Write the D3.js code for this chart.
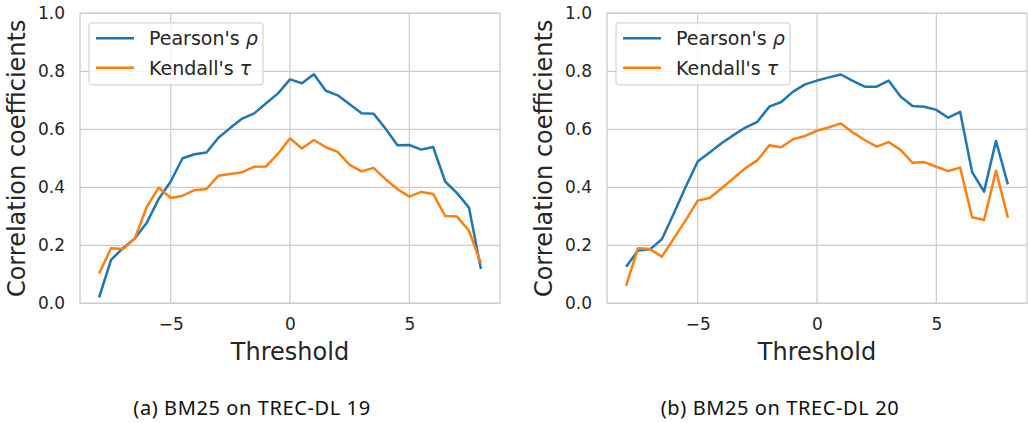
<!DOCTYPE html>
<html>
<head>
<meta charset="utf-8">
<script src="https://cdn.jsdelivr.net/npm/d3@7"></script>
<style>
  body { margin: 0; background: #fff; }
  text { font-family: "DejaVu Sans", sans-serif; fill: #262626; }
  .grid line { stroke: #cccccc; stroke-width: 1.2; }
  .caption { font-family: "Noto Sans", sans-serif; fill: #111; }
</style>
</head>
<body>
<div id="chart"></div>
<script>
// thresholds -8 .. 8 in steps of 0.5
var thresholds = [-8, -7.5, -7, -6.5, -6, -5.5, -5, -4.5, -4, -3.5, -3, -2.5, -2, -1.5, -1, -0.5,
                  0, 0.5, 1, 1.5, 2, 2.5, 3, 3.5, 4, 4.5, 5, 5.5, 6, 6.5, 7, 7.5, 8];

// (a) BM25 on TREC-DL 19
var pearson19 = [0.02, 0.15, 0.19, 0.224, 0.278, 0.36, 0.42, 0.50, 0.514, 0.52, 0.571, 0.605, 0.637, 0.655, 0.69, 0.724,
                 0.772, 0.759, 0.79, 0.733, 0.717, 0.686, 0.655, 0.654, 0.603, 0.545, 0.546, 0.53, 0.539, 0.42, 0.38, 0.33, 0.118];
var kendall19 = [0.103, 0.19, 0.187, 0.224, 0.333, 0.399, 0.363, 0.371, 0.39, 0.394, 0.44, 0.446, 0.452, 0.471, 0.472, 0.516,
                 0.569, 0.534, 0.563, 0.538, 0.522, 0.477, 0.455, 0.467, 0.428, 0.394, 0.368, 0.384, 0.377, 0.301, 0.299, 0.25, 0.138];

// (b) BM25 on TREC-DL 20
var pearson20 = [0.126, 0.182, 0.186, 0.221, 0.31, 0.402, 0.489, 0.52, 0.552, 0.58, 0.606, 0.626, 0.678, 0.694, 0.73, 0.755,
                 0.768, 0.779, 0.789, 0.767, 0.747, 0.747, 0.768, 0.713, 0.68, 0.678, 0.667, 0.64, 0.66, 0.452, 0.385, 0.56, 0.41];
var kendall20 = [0.06, 0.19, 0.187, 0.161, 0.224, 0.287, 0.354, 0.363, 0.397, 0.431, 0.466, 0.493, 0.545, 0.538, 0.566, 0.577,
                 0.595, 0.607, 0.62, 0.589, 0.563, 0.54, 0.556, 0.529, 0.485, 0.487, 0.471, 0.456, 0.468, 0.297, 0.287, 0.457, 0.295];

var xTicks = [-5, 0, 5];
var yTicks = [0.0, 0.2, 0.4, 0.6, 0.8, 1.0];
var seriesNames = ["Pearson's ", "Kendall's "];
var seriesSymbols = ["\u03C1", "\u03C4"];
var colors = ["#1f77b4", "#ff7f0e"];
var captions = ["(a) BM25 on TREC-DL 19", "(b) BM25 on TREC-DL 20"];

var W = 1028, H = 423;
var svg = d3.select("#chart").append("svg")
    .attr("width", W)
    .attr("height", H);

var w = 420, h = 290;

function drawPanel(left, top, pearson, kendall, caption, capX) {
    var g = svg.append("g")
        .attr("transform", "translate(" + left + "," + top + ")");

    var x = d3.scaleLinear()
        .domain([-8.8, 8.8])
        .range([0, w]);
    var y = d3.scaleLinear()
        .domain([0, 1])
        .range([h, 0]);

    // grid
    g.append("g")
        .attr("class", "grid")
        .selectAll("line.gx")
        .data(xTicks)
        .enter()
        .append("line")
            .attr("x1", function(d) { return x(d); })
            .attr("x2", function(d) { return x(d); })
            .attr("y1", 0)
            .attr("y2", h);
    g.append("g")
        .attr("class", "grid")
        .selectAll("line.gy")
        .data(yTicks)
        .enter()
        .append("line")
            .attr("x1", 0)
            .attr("x2", w)
            .attr("y1", function(d) { return y(d); })
            .attr("y2", function(d) { return y(d); });

    // frame
    g.append("rect")
        .attr("width", w)
        .attr("height", h)
        .attr("fill", "none")
        .attr("stroke", "#cccccc")
        .attr("stroke-width", 1.3);

    var xax = g.append("g")
        .attr("transform", "translate(0," + h + ")")
        .call(d3.axisBottom(x).tickValues(xTicks).tickSize(0).tickPadding(15));
    var yax = g.append("g")
        .call(d3.axisLeft(y).tickValues(yTicks).tickSize(0).tickPadding(15).tickFormat(d3.format(".1f")));
    [xax, yax].forEach(function(a) {
        a.select(".domain").remove();
        a.selectAll("text")
            .style("font-size", "17px")
            .style("font-family", "DejaVu Sans")
            .attr("fill", "#262626");
    });

    g.append("text")
        .attr("x", w / 2)
        .attr("y", h + 57)
        .attr("text-anchor", "middle")
        .style("font-size", "24px")
        .text("Threshold");

    g.append("text")
        .attr("transform", "translate(-55," + (h / 2) + ") rotate(-90)")
        .attr("text-anchor", "middle")
        .style("font-size", "24px")
        .text("Correlation coefficients");

    var line = d3.line()
        .x(function(d, i) { return x(thresholds[i]); })
        .y(function(d) { return y(d); });

    [pearson, kendall].forEach(function(s, k) {
        g.append("path")
            .datum(s)
            .attr("d", line)
            .attr("fill", "none")
            .attr("stroke", colors[k])
            .attr("stroke-width", 2.5)
            .attr("stroke-linejoin", "round");
    });

    // legend
    var lg = g.append("g")
        .attr("transform", "translate(9,9.5)");
    lg.append("rect")
        .attr("width", 174)
        .attr("height", 62)
        .attr("rx", 3)
        .attr("fill", "white")
        .attr("fill-opacity", 0.8)
        .attr("stroke", "#d5d5d5")
        .attr("stroke-width", 1.2);
    seriesNames.forEach(function(n, k) {
        lg.append("line")
            .attr("x1", 7)
            .attr("x2", 45)
            .attr("y1", 15.5 + k * 29.5)
            .attr("y2", 15.5 + k * 29.5)
            .attr("stroke", colors[k])
            .attr("stroke-width", 2.5);
        var t = lg.append("text")
            .attr("x", 60)
            .attr("y", 15.5 + k * 29.5)
            .attr("dy", "0.36em")
            .style("font-size", "19px");
        t.append("tspan").text(n);
        t.append("tspan")
            .style("font-style", "italic")
            .text(seriesSymbols[k]);
    });

    svg.append("text")
        .attr("class", "caption")
        .attr("x", capX)
        .attr("y", 415)
        .attr("text-anchor", "middle")
        .style("font-size", "20px")
        .style("letter-spacing", "0.6px")
        .text(caption);
}

drawPanel(80, 13.3, pearson19, kendall19, captions[0], 252);
drawPanel(607, 13.3, pearson20, kendall20, captions[1], 780);
</script>
</body>
</html>
